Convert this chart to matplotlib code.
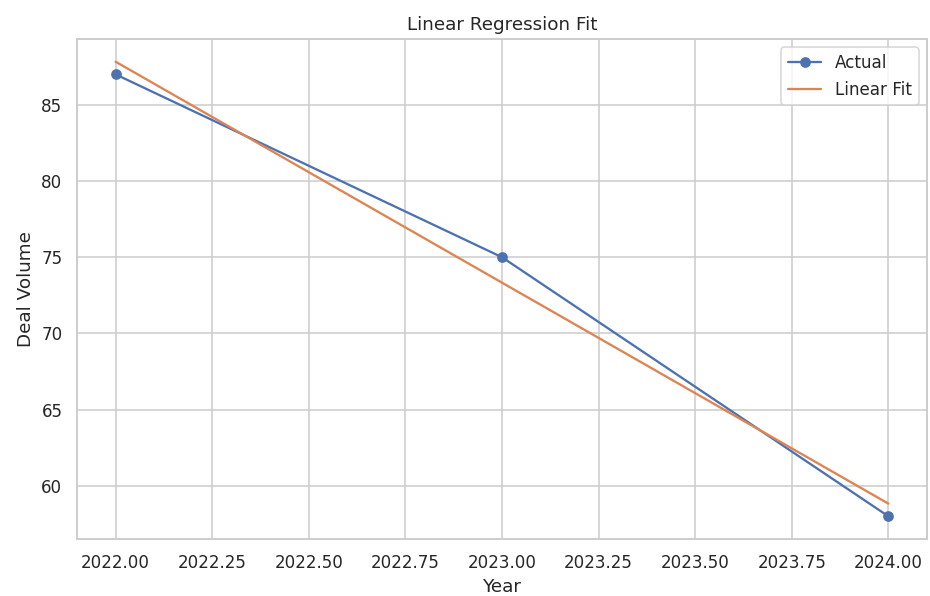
import matplotlib
matplotlib.use("Agg")
import matplotlib.pyplot as plt
import seaborn as sns

years = [2022, 2023, 2024]
deal_volume = [87, 75, 58]
fit_values = [87.83, 73.33, 58.83]

sns.set_theme(style="whitegrid")
plt.rcParams['font.family'] = ['DejaVu Sans']

DPI = 110
fig, ax = plt.subplots(figsize=(930 / DPI, 596 / DPI), dpi=DPI)
ax.plot(years, deal_volume, marker='o', label='Actual')
ax.plot(years, fit_values, label='Linear Fit')
ax.set_title('Linear Regression Fit')
ax.set_xlabel('Year')
ax.set_ylabel('Deal Volume')
ax.legend()
fig.subplots_adjust(left=77 / 930, right=927 / 930, top=1 - 39 / 596, bottom=1 - 539 / 596)
fig.savefig('out.png', dpi=DPI)
